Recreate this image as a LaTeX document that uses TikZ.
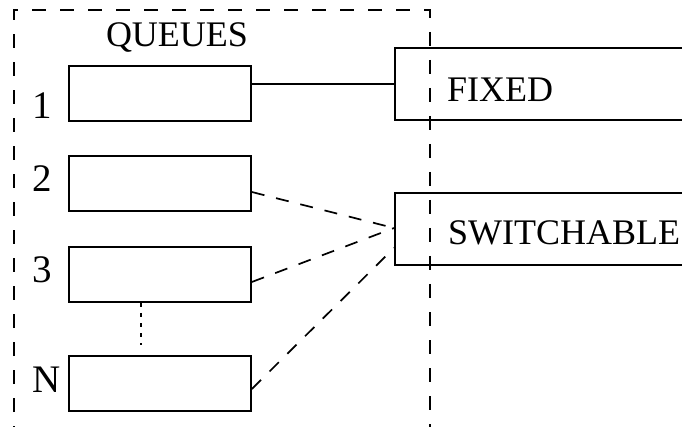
\documentclass[tikz,border=0pt]{standalone}
\usepackage{fontspec}
\setmainfont{Liberation Serif}
\begin{document}
\begin{tikzpicture}[x=1pt,y=-1pt,
  queuebox/.style={draw, line width=1.8pt, minimum width=182pt, minimum height=55pt, inner sep=0pt, anchor=north west},
  classbox/.style={draw, line width=1.8pt, minimum width=330pt, minimum height=72pt, inner sep=0pt, anchor=north west},
  bigtext/.style={font=\fontsize{36}{40}\selectfont, inner sep=0pt},
  numtext/.style={font=\fontsize{39}{42}\selectfont, inner sep=0pt, anchor=base},
  linkline/.style={line width=1.7pt},
  switchline/.style={line width=1.7pt, dash pattern=on 13pt off 12pt},
  borderline/.style={line width=1.8pt, dash pattern=on 14pt off 14pt}]
\useasboundingbox (0,0) rectangle (682,427);
\clip (0,0) rectangle (682,427);

% queue boxes
\node[queuebox] (q1) at (68,65) {};
\node[queuebox] (q2) at (68,155) {};
\node[queuebox] (q3) at (68,246) {};
\node[queuebox] (qn) at (68,355) {};

% queue numbers and heading
\node[numtext] (l1) at (42,119) {1};
\node[numtext] (l2) at (42,192) {2};
\node[numtext] (l3) at (42,283) {3};
\node[numtext] (ln) at (46.5,392) {N};
\node[bigtext, anchor=base] (title) at (177,47) {QUEUES};

% gap between queue 3 and queue N
\coordinate (dtop) at (141,303);
\coordinate (dbot) at (141,345);
\draw[line width=1.6pt, dash pattern=on 4pt off 6pt] (dtop) -- (dbot);

% server classes
\node[classbox] (fixed) at (394,47) {};
\node[classbox] (switch) at (394,192) {};
\node[bigtext, anchor=base west] (fixedtxt) at (447,102) {FIXED};
\node[bigtext, anchor=base west] (switchtxt) at (448,245) {SWITCHABLE};

% connections
\draw[linkline] (q1.east |- fixed.west) -- (fixed.west);
\coordinate (sw) at (394,228);
\coordinate (swlow) at (394,248);
\draw[switchline] (q2.east |- 0,192) -- (sw);
\draw[switchline] (q3.east |- 0,282) -- (sw);
\draw[switchline] (qn.east |- 0,389) -- (swlow);

% dashed boundary
\coordinate (bl) at (14,440);
\coordinate (tl) at (14,10);
\coordinate (tr) at (430,10);
\coordinate (br) at (430,440);
\draw[borderline] (bl) -- (tl) -- (tr) -- (br);
\end{tikzpicture}
\end{document}
